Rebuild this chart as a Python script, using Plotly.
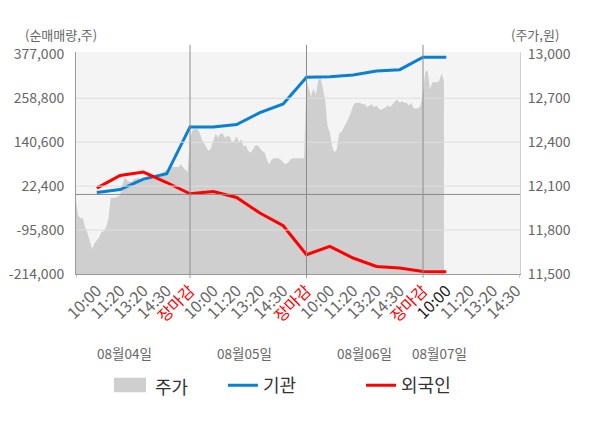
import plotly.graph_objects as go

# x axis: 5 label slots per trading day
time_labels = ["10:00", "11:20", "13:20", "14:30", "장마감"]
date_labels = ["08월04일", "08월05일", "08월06일", "08월07일"]

price_day1 = [12010, 12010, 11900, 11880, 11880, 11820, 11780, 11730, 11670, 11710,
              11730, 11750, 11790, 11790, 11820, 11880, 12020, 12020, 12020, 12030,
              12040, 12110, 12160, 12140, 12130, 12130, 12150, 12150, 12160, 12130,
              12150, 12150, 12170, 12160, 12150, 12150, 12170, 12180, 12190, 12200,
              12210, 12210, 12230, 12230, 12230, 12230, 12250, 12230, 12210, 12200]
price_day2 = [12430, 12480, 12490, 12490, 12470, 12420, 12390, 12370, 12340, 12360,
              12420, 12460, 12430, 12460, 12460, 12430, 12440, 12440, 12400, 12410,
              12440, 12400, 12420, 12370, 12380, 12340, 12330, 12350, 12380, 12380,
              12360, 12340, 12330, 12280, 12250, 12280, 12290, 12290, 12290, 12280,
              12260, 12250, 12260, 12280, 12290, 12290, 12290, 12290, 12290, 12290]
price_day3 = [12820, 12760, 12710, 12770, 12720, 12820, 12840, 12770, 12690, 12510,
              12470, 12370, 12330, 12350, 12460, 12470, 12500, 12520, 12560, 12600,
              12650, 12670, 12670, 12670, 12660, 12660, 12640, 12650, 12660, 12640,
              12650, 12630, 12620, 12630, 12640, 12650, 12640, 12660, 12680, 12690,
              12670, 12680, 12670, 12670, 12650, 12670, 12630, 12630, 12630, 12650]
price_day4 = [12740, 12880, 12890, 12760, 12810, 12810, 12810, 12820, 12870, 12820]

# 순매매량 (cumulative net buying, shares) at each label slot
inst = [5200, 13300, 41200, 55500, 181700,
        181700, 187900, 220100, 243500, 315200,
        316800, 321400, 332100, 335600, 369000,
        369000]
foreign = [17000, 50900, 60000, 32100, 1700,
           7900, -8200, -50100, -84200, -162200,
           -139900, -171000, -193600, -197900, -207000,
           -207800]

vol_ticks = [-214000, -95800, 22400, 140600, 258800, 377000]
price_ticks = [11500, 11800, 12100, 12400, 12700, 13000]

font = "Noto Sans CJK KR"
slots = len(time_labels)
step = 0.1

price_x, price_y = [], []
for d, day in enumerate([price_day1, price_day2, price_day3, price_day4]):
    for j, p in enumerate(day):
        price_x.append(d * slots + j * step)
        price_y.append(p)

line_x = list(range(1, len(inst) + 1))

tick_pos = list(range(1, 20))
tick_text = []
for i in tick_pos:
    lab = time_labels[(i - 1) % slots]
    if lab == "장마감":
        lab = '<span style="color:#ff0000">장마감</span>'
    elif i == 16:
        lab = '<span style="color:#222222">' + lab + '</span>'
    tick_text.append(lab)

x_range = [0.107, 19.163]

fig = go.Figure()
fig.add_trace(go.Scatter(x=price_x, y=price_y, name="주가", mode="lines",
                         line=dict(width=0, color="#cfcfcf"), fill="tozeroy",
                         fillcolor="#cfcfcf", yaxis="y", showlegend=False))
fig.add_trace(go.Scatter(x=line_x, y=inst, name="기관", mode="lines",
                         line=dict(color="#0a80d0", width=3), yaxis="y2",
                         legend="legend"))
fig.add_trace(go.Scatter(x=line_x, y=foreign, name="외국인", mode="lines",
                         line=dict(color="#ff0000", width=3), yaxis="y2",
                         legend="legend2"))

shapes = []
for v in vol_ticks[1:-1]:
    shapes.append(dict(type="line", xref="paper", x0=0, x1=1, yref="y2", y0=v, y1=v,
                       line=dict(color="#dedede", width=1), layer="above"))
shapes.append(dict(type="line", xref="paper", x0=0, x1=1, yref="y2", y0=0, y1=0,
                   line=dict(color="#8c8c8c", width=1), layer="above"))
for b in [slots, 2 * slots, 3 * slots]:
    shapes.append(dict(type="line", xref="x", x0=b, x1=b, yref="paper", y0=0, y1=1.032,
                       line=dict(color="#8c8c8c", width=1), layer="above"))
for b in [x_range[0], slots, 2 * slots, 3 * slots, x_range[1]]:
    shapes.append(dict(type="line", xref="x", x0=b, x1=b, yref="paper", y0=0, y1=-0.018,
                       line=dict(color="#999999", width=1)))
# 주가 legend box
shapes.append(dict(type="rect", xref="paper", yref="paper", x0=0.0856, x1=0.1577,
                   y0=-0.5326, y1=-0.4678, fillcolor="#cfcfcf", line=dict(width=0)))

annotations = [
    dict(text="(순매매량,주)", x=-0.034, y=1.081, xref="paper", yref="paper",
         xanchor="center", yanchor="middle", showarrow=False,
         font=dict(family=font, size=13, color="#666666")),
    dict(text="(주가,원)", x=1.034, y=1.081, xref="paper", yref="paper",
         xanchor="center", yanchor="middle", showarrow=False,
         font=dict(family=font, size=13, color="#666666")),
    dict(text="주가", x=0.1734, y=-0.5025, xref="paper", yref="paper", xanchor="left",
         yanchor="middle", showarrow=False, font=dict(family=font, size=18, color="#333333")),
]
date_pos = [2.2, 7.35, 12.5, 15.7]
for pos, lab in zip(date_pos, date_labels):
    annotations.append(dict(text=lab, x=pos, y=-0.354, xref="x", yref="paper",
                            xanchor="center", yanchor="middle", showarrow=False,
                            font=dict(family=font, size=13.5, color="#666666")))

# the page body adds an 8px offset, so the figure is 8px smaller than the window
fig.update_layout(
    width=592, height=420, autosize=False,
    margin=dict(l=68, r=80, t=44, b=154, autoexpand=False),
    paper_bgcolor="white", plot_bgcolor="#f4f4f4",
    font=dict(family=font, color="#666666"),
    xaxis=dict(range=x_range, tickvals=tick_pos, ticktext=tick_text, tickangle=-45,
               tickfont=dict(size=16, color="#666666"), showgrid=False, zeroline=False,
               showline=True, linecolor="#999999", ticks="", automargin=False),
    yaxis=dict(range=[11500, 13016], side="right", tickvals=price_ticks,
               ticktext=[f"{v:,}" for v in price_ticks], showgrid=False, zeroline=False,
               showline=True, linecolor="#d0d0d0", ticks="outside", ticklen=4,
               tickcolor="rgba(0,0,0,0)", tickfont=dict(size=14, color="#666666"),
               automargin=False),
    yaxis2=dict(range=[-214000, 383180], overlaying="y", side="left", tickvals=vol_ticks,
                ticktext=[f"{v:,}" for v in vol_ticks], showgrid=False, zeroline=False,
                showline=True, linecolor="#999999", ticks="outside", ticklen=8,
                tickcolor="rgba(0,0,0,0)", tickfont=dict(size=14, color="#666666"),
                automargin=False),
    legend=dict(orientation="h", x=0.331, y=-0.5025, xanchor="left", yanchor="middle",
                font=dict(family=font, size=18, color="#333333"), bgcolor="rgba(0,0,0,0)"),
    legend2=dict(orientation="h", x=0.642, y=-0.5025, xanchor="left", yanchor="middle",
                 font=dict(family=font, size=18, color="#333333"), bgcolor="rgba(0,0,0,0)"),
    shapes=shapes,
    annotations=annotations,
)

fig.write_html("out.html")
